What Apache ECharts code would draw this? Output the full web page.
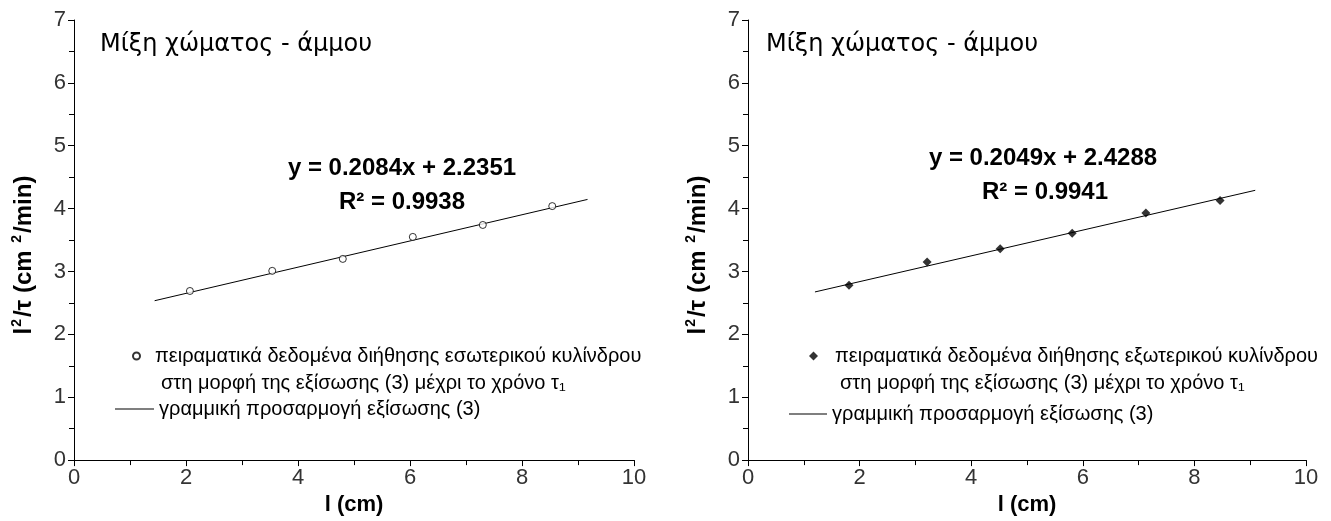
<!DOCTYPE html>
<html>
<head>
<meta charset="utf-8">
<script src="https://cdn.jsdelivr.net/npm/echarts@6/dist/echarts.min.js"></script>
<style>
  html, body { margin: 0; padding: 0; background: #fff; }
  #chart { width: 1331px; height: 521px; }
</style>
</head>
<body>
<div id="chart"></div>
<script>
// Inner cylinder (left panel): length l (cm) and l²/τ (cm²/min)
const innerLength = [2.07, 3.54, 4.80, 6.05, 7.30, 8.54];
const innerRate   = [2.69, 3.01, 3.20, 3.55, 3.74, 4.04];
// Outer cylinder (right panel)
const outerLength = [1.81, 3.21, 4.52, 5.81, 7.13, 8.46];
const outerRate   = [2.78, 3.15, 3.36, 3.61, 3.93, 4.13];

// Linear fits y = slope·x + intercept, with the x span the fitted line covers
const innerFit = { slope: 0.2084, intercept: 2.2351, r2: 0.9938, span: [1.44, 9.17] };
const outerFit = { slope: 0.2049, intercept: 2.4288, r2: 0.9941, span: [1.20, 9.09] };

const xTicks = [0, 2, 4, 6, 8, 10];
const yTicks = [0, 1, 2, 3, 4, 5, 6, 7];

const panelTitle = 'Μίξη χώματος - άμμου';
const innerName = 'πειραματικά δεδομένα διήθησης εσωτερικού κυλίνδρου';
const outerName = 'πειραματικά δεδομένα διήθησης εξωτερικού κυλίνδρου';
const legendCont = 'στη μορφή της εξίσωσης (3) μέχρι το χρόνο τ₁';
const fitName = 'γραμμική προσαρμογή εξίσωσης (3)';

const SANS = "'Liberation Sans', Arial, sans-serif";

function pairs(xs, ys) { return xs.map((x, i) => [x, ys[i]]); }
function fitLine(f) { return f.span.map(x => [x, f.slope * x + f.intercept]); }
function fmt(v) { return v.toFixed(4); }

function xAxis(gridIndex) {
  return {
    gridIndex, type: 'value', min: xTicks[0], max: xTicks[xTicks.length - 1], interval: 2,
    name: 'l (cm)', nameLocation: 'middle', nameGap: 31,
    nameTextStyle: { fontFamily: SANS, fontSize: 22, fontWeight: 'bold', color: '#000' },
    axisLine: { lineStyle: { color: '#000', width: 1 } },
    axisTick: { inside: false, length: 6, lineStyle: { color: '#000' } },
    minorTick: { show: true, splitNumber: 2, length: 5, lineStyle: { color: '#000' } },
    axisLabel: { fontFamily: SANS, fontSize: 22, color: '#333', margin: 7 },
    splitLine: { show: false }
  };
}
function yAxis(gridIndex) {
  return {
    gridIndex, type: 'value', min: yTicks[0], max: yTicks[yTicks.length - 1], interval: 1,
    name: '{b|l}{s|2}{b|/τ (cm }{s|2}{b|/min)}', nameLocation: 'middle', nameGap: 36, nameRotate: 90,
    nameTextStyle: {
      fontFamily: SANS, fontSize: 24, fontWeight: 'bold', color: '#000',
      padding: [0, 30, 0, 0],
      rich: {
        b: { fontFamily: SANS, fontSize: 24, fontWeight: 'bold', color: '#000', lineHeight: 28 },
        s: { fontFamily: SANS, fontSize: 14, fontWeight: 'bold', color: '#000', lineHeight: 28,
             verticalAlign: 'top', padding: [0, 2, 0, 1] }
      }
    },
    axisLine: { show: true, lineStyle: { color: '#000', width: 1 } },
    axisTick: { show: true, inside: false, length: 6, lineStyle: { color: '#000' } },
    minorTick: { show: true, splitNumber: 2, length: 5, lineStyle: { color: '#000' } },
    axisLabel: { fontFamily: SANS, fontSize: 22, color: '#333', margin: 8 },
    splitLine: { show: false }
  };
}

function text(x, y, str, font, align) {
  return {
    type: 'text', x, y, silent: true,
    style: { text: str, font, fill: '#000', align: align || 'left', verticalAlign: 'middle' }
  };
}

// legend text with an adjustable gap between marker and label
function legendStyle(gap) {
  return {
    fontFamily: SANS, fontSize: 20, color: '#000',
    rich: { t: { fontFamily: SANS, fontSize: 20, color: '#000', padding: [0, 0, 0, gap] } }
  };
}
const tag = name => '{t|' + name + '}';

const option = {
  backgroundColor: '#fff',
  animation: false,
  grid: [
    { left: 74, top: 20, width: 560, height: 442 },
    { left: 748, top: 20, width: 558, height: 442 }
  ],
  xAxis: [xAxis(0), xAxis(1)],
  yAxis: [yAxis(0), yAxis(1)],
  legend: [
    { data: [{ name: innerName, icon: 'circle' }], left: 132, top: 346, padding: 0,
      itemWidth: 7, itemHeight: 7, selectedMode: false,
      formatter: tag, textStyle: legendStyle(10) },
    { data: [{ name: fitName, icon: 'rect' }], left: 115, top: 399, padding: 0,
      itemWidth: 39, itemHeight: 1, selectedMode: false,
      textStyle: legendStyle(0) },
    { data: [{ name: outerName, icon: 'diamond' }], left: 809, top: 346, padding: 0,
      itemWidth: 9, itemHeight: 9, selectedMode: false,
      formatter: tag, textStyle: legendStyle(12) },
    { data: [{ name: fitName + ' ', icon: 'rect' }], left: 789, top: 404, padding: 0,
      itemWidth: 38, itemHeight: 1, selectedMode: false,
      textStyle: legendStyle(0) }
  ],
  graphic: [
    text(100, 45, panelTitle, "24px 'DejaVu Sans', sans-serif"),
    text(766, 45, panelTitle, "24px 'DejaVu Sans', sans-serif"),
    text(402, 168, 'y = ' + fmt(innerFit.slope) + 'x + ' + fmt(innerFit.intercept), 'bold 24px ' + SANS, 'center'),
    text(402, 202, 'R² = ' + fmt(innerFit.r2), 'bold 24px ' + SANS, 'center'),
    text(1043, 158, 'y = ' + fmt(outerFit.slope) + 'x + ' + fmt(outerFit.intercept), 'bold 24px ' + SANS, 'center'),
    text(1045, 192, 'R² = ' + fmt(outerFit.r2), 'bold 24px ' + SANS, 'center'),
    text(161, 383, legendCont, '20px ' + SANS),
    text(840, 383, legendCont, '20px ' + SANS)
  ],
  series: [
    { name: innerName, type: 'scatter', xAxisIndex: 0, yAxisIndex: 0,
      data: pairs(innerLength, innerRate), symbol: 'circle', symbolSize: 7,
      itemStyle: { color: '#fff', borderColor: '#000', borderWidth: 1 }, z: 3 },
    { name: fitName, type: 'line', xAxisIndex: 0, yAxisIndex: 0,
      data: fitLine(innerFit), symbol: 'none',
      lineStyle: { color: '#000', width: 1 }, itemStyle: { color: '#000' } },
    { name: outerName, type: 'scatter', xAxisIndex: 1, yAxisIndex: 1,
      data: pairs(outerLength, outerRate), symbol: 'diamond', symbolSize: 9,
      itemStyle: { color: '#000' }, z: 3 },
    { name: fitName + ' ', type: 'line', xAxisIndex: 1, yAxisIndex: 1,
      data: fitLine(outerFit), symbol: 'none',
      lineStyle: { color: '#000', width: 1 }, itemStyle: { color: '#000' } }
  ]
};

const chart = echarts.init(document.getElementById('chart'), null, { renderer: 'canvas' });
chart.setOption(option);
</script>
</body>
</html>
